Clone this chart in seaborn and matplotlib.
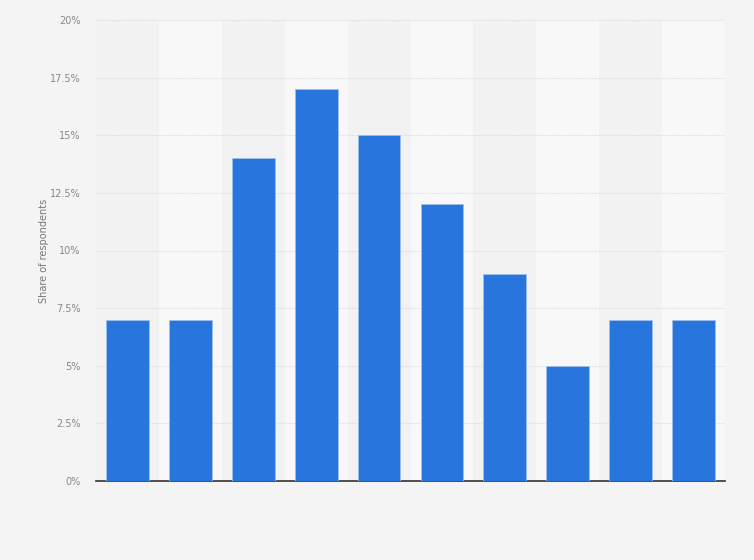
import numpy as np
import pandas as pd
import matplotlib
matplotlib.use('Agg')
import matplotlib.pyplot as plt
import seaborn as sns

# Data (x labels are not shown in the original)
categories = ['c1', 'c2', 'c3', 'c4', 'c5', 'c6', 'c7', 'c8', 'c9', 'c10']
shares = [7, 7, 14, 17, 15, 12, 9, 5, 7, 7]
y_ticks = [0, 2.5, 5, 7.5, 10, 12.5, 15, 17.5, 20]
y_tick_labels = ['0%', '2.5%', '5%', '7.5%', '10%', '12.5%', '15%', '17.5%', '20%']

df = pd.DataFrame({'category': categories, 'share': shares})

sns.set_style('white')
plt.rcParams['font.family'] = ['DejaVu Sans']

fig = plt.figure(figsize=(7.54, 5.60), dpi=100)
fig.patch.set_facecolor('#f4f4f4')
ax = fig.add_axes([96 / 754, 79 / 560, 629 / 754, 461 / 560])
ax.set_facecolor('#f2f2f2')

# alternating column bands
for i in range(len(categories)):
    if i % 2 == 1:
        ax.axvspan(i - 0.5, i + 0.5, color='#f8f8f8', zorder=0, lw=0)

sns.barplot(data=df, x='category', y='share', color='#2876dd', saturation=1,
            width=0.68, ax=ax, zorder=3, edgecolor='#9fbfec', linewidth=0.6)

ax.set_xlim(-0.5, len(categories) - 0.5)
ax.set_ylim(0, 20)
ax.set_yticks(y_ticks)
ax.set_yticklabels(y_tick_labels, fontsize=7, color='#888888')
ax.yaxis.grid(True, color='#dddddd', linestyle=(0, (1, 1)), linewidth=0.8, zorder=1)
ax.set_axisbelow(True)
ax.tick_params(axis='y', length=0, pad=11)
ax.set_xticks([])
ax.set_xlabel('')
ax.set_ylabel('Share of respondents', fontsize=7, color='#777777', labelpad=1)

for side in ['top', 'right', 'left']:
    ax.spines[side].set_visible(False)
ax.spines['bottom'].set_color('#333333')
ax.spines['bottom'].set_linewidth(1.2)

fig.savefig('out.png', dpi=100, facecolor=fig.get_facecolor())
